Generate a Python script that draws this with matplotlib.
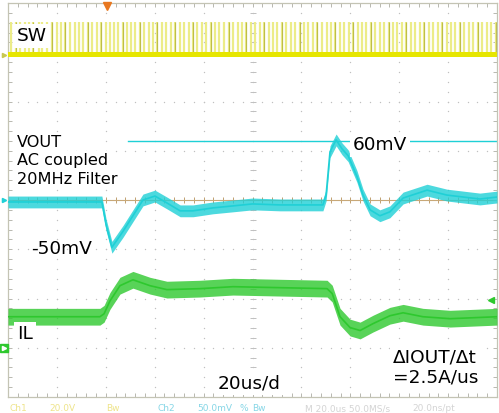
import numpy as np
import matplotlib.pyplot as plt

# time base 20 us/div, 10 divisions, 8 vertical divisions
us_per_div = 20
t_left, t_right = -100, 100

# Ch1: SW node (20 V/div), switching pulse times in us
sw_offset_div = 2.95
sw_v_per_div = 20.0
sw_high_v = 13.2
sw_base_band_v = 1.0
sw_pulse_t = [-98.8, -96.9, -95.2, -93.1, -91.4, -89.6, -87.5, -85.9, -84.0, -82.2,
              -80.1, -78.5, -76.6, -74.8, -72.7, -71.0, -69.2, -67.3, -65.5, -63.6,
              -61.9, -60.0, -58.3, -56.6, -54.9, -53.1, -51.4, -49.7, -47.9, -46.2,
              -44.3, -42.5, -40.8, -38.9, -37.0, -35.3, -33.4, -31.6, -29.8, -27.9,
              -26.1, -24.4, -22.5, -20.6, -18.9, -17.0, -15.2, -13.5, -11.6, -9.8,
              -8.0, -6.1, -4.3, -2.6, -0.7, 1.1, 2.9, 4.8, 6.6, 8.3,
              10.2, 12.0, 13.9, 15.7, 17.4, 19.3, 21.1, 22.9, 24.8, 26.5,
              28.4, 30.3, 32.0, 33.8, 35.7, 37.5, 39.3, 41.2, 43.0, 44.7,
              46.6, 48.4, 50.2, 52.1, 53.8, 55.7, 57.5, 59.3, 61.2, 62.9,
              64.8, 66.6, 68.4, 70.3, 72.0, 73.9, 75.7, 77.5, 79.4, 81.1,
              83.0, 84.8, 86.6, 88.5, 90.2, 92.1, 93.9, 95.8, 97.6, 99.4]
sw_dark_t = [-96.9, -89.6, -82.2, -76.6, -67.3, -61.9, -53.1, -46.2, -38.9, -31.6,
             -24.4, -17.0, -9.8, -2.6, 4.8, 12.0, 19.3, 26.5, 33.8, 41.2,
             48.4, 55.7, 62.9, 70.3, 77.5, 84.8, 92.1, 99.4]

# Ch2: VOUT, AC coupled (50 mV/div)
vout_mv_per_div = 50
vout_ripple_mv = 6
vout_cursor_mv = 60
vout_t = [-100, -61.6, -59.9, -57.5, -53.0, -48.9, -44.8, -39.9, -35.0, -29.6,
          -24.3, -16.2, -8.0, 0, 11.2, 28.8, 30.1, 31.7, 34.2, 36.6,
          39.1, 42.7, 45.2, 48.1, 52.1, 56.2, 61.6, 71.4, 79.5, 93.0, 100]
vout_mv = [-2, -2, -25, -48, -32, -16, 0, 4, -3, -11,
           -11, -8, -6, -4, -5, -5, 5, 49, 61, 52,
           45, 24, 5, -10, -16, -12, 2, 10, 5, 1, 3]

# Ch3: inductor current IL (divisions above its ground marker)
il_offset_div = -3.0
il_ripple_div = 0.17
il_t = [-100, -62.4, -60.7, -58.3, -54.2, -48.9, -41.9, -35.0, -21.5, -8.0,
        11.2, 30.5, 32.6, 35.8, 39.9, 44.0, 49.3, 56.2, 61.6, 69.7, 80.8, 100]
il_div = [0.63, 0.63, 0.69, 0.95, 1.26, 1.38, 1.26, 1.18, 1.20, 1.24,
          1.22, 1.20, 1.10, 0.63, 0.41, 0.35, 0.49, 0.65, 0.71, 0.63, 0.59, 0.63]

trig_t = -59.5

yellow = '#e6e600'
cyan = '#1fd0d6'
green = '#2ec82e'
W, H = 499, 413

fig = plt.figure(figsize=(W / 100, H / 100), dpi=100)
ax = fig.add_axes([8 / W, 1 - 397 / H, 489 / W, 394 / H])
ax.set_xlim(t_left, t_right)
ax.set_ylim(-4, 4)

# graticule
ax.set_xticks(np.arange(t_left, t_right + 1, us_per_div))
ax.set_xticks(np.arange(t_left, t_right + 1, us_per_div / 5), minor=True)
ax.set_yticks(np.arange(-4, 5, 1))
ax.set_yticks(np.arange(-4, 4.01, 0.2), minor=True)
ax.tick_params(which='both', direction='in', top=True, right=True,
               labelbottom=False, labelleft=False, color='#b8b8b0',
               length=3, width=0.7)
for s in ax.spines.values():
    s.set_color('#c4c4b4')
    s.set_linewidth(0.9)

dot_y = np.arange(-4, 4.01, 0.2)
dot_x = np.arange(t_left, t_right + 0.1, us_per_div / 5)
for gx in np.arange(t_left + us_per_div, t_right, us_per_div):
    ax.scatter(np.full(len(dot_y), gx), dot_y, s=1.0, color='#c0c0c0', lw=0, zorder=1)
for gy in range(-3, 4):
    ax.scatter(dot_x, np.full(len(dot_x), gy), s=1.0, color='#c0c0c0', lw=0, zorder=1)
ax.plot(np.zeros(len(dot_y)), dot_y, ls='none', marker='_', ms=4, mew=0.7,
        color='#c0c0c0', zorder=1)
ax.plot(dot_x, np.zeros(len(dot_x)), ls='none', marker='|', ms=4, mew=0.7,
        color='#c0a070', zorder=1)
ax.axhline(0, color='#c8a878', lw=0.8, zorder=1)

# SW trace
sw_base = sw_offset_div
sw_top = sw_offset_div + sw_high_v / sw_v_per_div
ax.vlines(sw_pulse_t, sw_base, sw_top, color='#ecec88', lw=1.6, zorder=2)
ax.vlines(sw_dark_t, sw_base, sw_top, color='#bebe48', lw=0.8, zorder=2)
ax.fill_between([t_left, t_right],
                sw_base - sw_base_band_v / sw_v_per_div,
                sw_base + sw_base_band_v / sw_v_per_div,
                color=yellow, lw=0, zorder=3)

# VOUT trace
vy = np.array(vout_mv) / vout_mv_per_div
vr = vout_ripple_mv / vout_mv_per_div
ax.axhline(vout_cursor_mv / vout_mv_per_div, xmin=0.245, color=cyan, lw=1.0, zorder=2)
ax.fill_between(vout_t, vy - vr, vy + vr, color=cyan, alpha=0.8, lw=0, zorder=3)
ax.plot(vout_t, vy, color=cyan, lw=1.2, zorder=3)

# IL trace
iy = il_offset_div + np.array(il_div)
ax.fill_between(il_t, iy - il_ripple_div, iy + il_ripple_div, color=green,
                alpha=0.8, lw=0, zorder=3)
ax.plot(il_t, iy, color=green, lw=1.2, zorder=3)

# channel / trigger markers
ax.plot([-101.8], [il_offset_div], marker='s', ms=6, color=green, clip_on=False, zorder=5)
ax.plot([-101.8], [il_offset_div], marker='>', ms=3, color='white', clip_on=False, zorder=6)
ax.plot([-101.8], [0], marker='>', ms=3, color=cyan, clip_on=False, zorder=5)
ax.plot([-101.8], [sw_offset_div], marker='>', ms=3, color='#c8c850', clip_on=False, zorder=5)
ax.plot([97.6], [-2.03], marker='<', ms=4, color=green, zorder=5)
ax.plot([trig_t], [3.93], marker='v', ms=6, color='#e87820', clip_on=False, zorder=5)


def label(x, y, s, size=13.3, box=True):
    kw = dict(boxstyle='square,pad=0.15', fc='white', ec='none') if box else None
    fig.text(x / W, 1 - y / H, s, fontsize=size, va='baseline', ha='left',
             color='black', bbox=kw, zorder=10)


label(17, 41, 'SW')
label(17, 147, 'VOUT', 11.6)
label(17, 165, 'AC coupled', 11.6)
label(17, 184, '20MHz Filter', 11.6)
label(31, 254, '-50mV', box=False)
label(353, 150, '60mV')
label(17, 339, 'IL')
label(218, 388, '20us/d')
label(393, 363, 'ΔIOUT/Δt')
label(393, 383, '=2.5A/us')

# status line
status = [(10, 'Ch1', '#eee48a'), (49, '20.0V', '#eee48a'), (106, 'Bw', '#eee48a'),
          (157, 'Ch2', '#86d6e6'), (197, '50.0mV', '#86d6e6'), (240, '%', '#86d6e6'),
          (252, 'Bw', '#86d6e6'), (305, 'M 20.0us 50.0MS/s', '#d4d4d4'),
          (412, '20.0ns/pt', '#d4d4d4')]
for x, s, c in status:
    fig.text(x / W, 1 - 411 / H, s, fontsize=6.5, color=c, va='baseline')

fig.savefig('out.png', dpi=100)
